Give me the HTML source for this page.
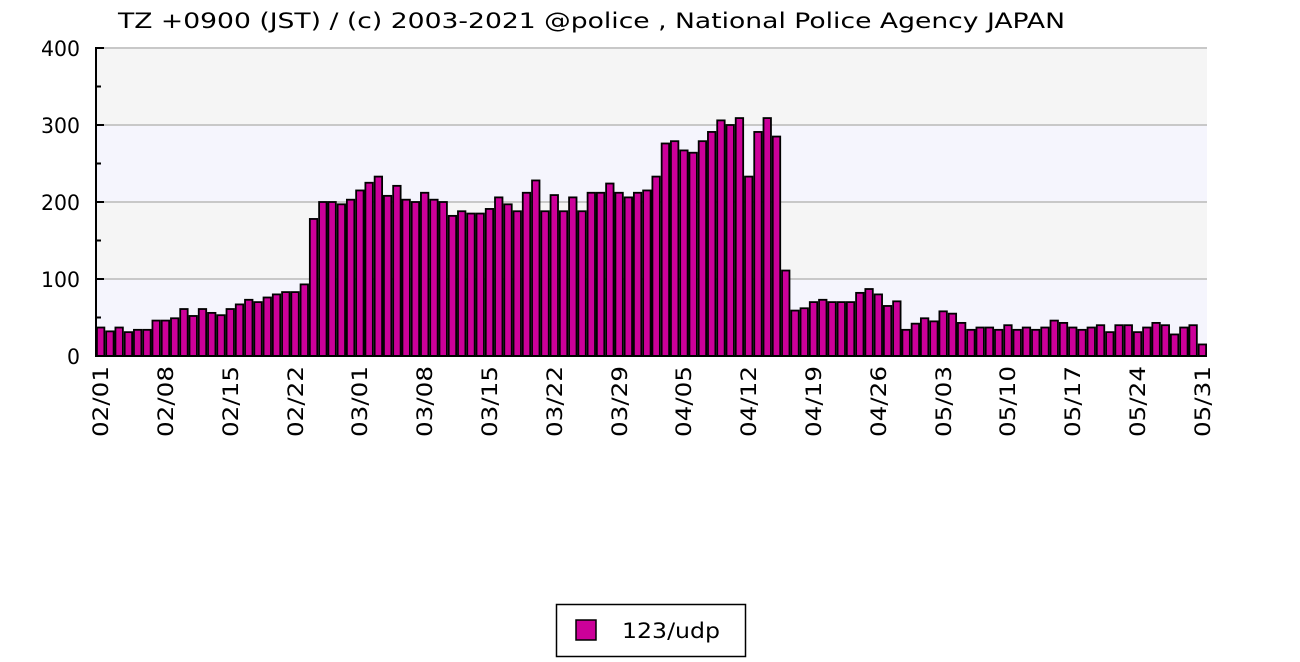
<!DOCTYPE html>
<html><head><meta charset="utf-8"><style>
html,body{margin:0;padding:0;background:#fff;}
svg{display:block;font-family:"DejaVu Sans","Liberation Sans",sans-serif;}
</style></head><body>
<svg id="s" width="1300" height="662" viewBox="0 0 1300 662">
<rect x="96" y="48" width="1111" height="77" fill="#f5f5f5"/>
<rect x="96" y="125" width="1111" height="77" fill="#f5f5fd"/>
<rect x="96" y="202" width="1111" height="77" fill="#f5f5f5"/>
<rect x="96" y="279" width="1111" height="77" fill="#f5f5fd"/>
<g stroke="#c8c8c8" stroke-width="2">
<line x1="96" y1="48" x2="1207" y2="48"/><line x1="96" y1="125" x2="1207" y2="125"/>
<line x1="96" y1="202" x2="1207" y2="202"/><line x1="96" y1="279" x2="1207" y2="279"/>
</g>
<g id="bars" fill="#cc0099" stroke="#000" stroke-width="1.8"></g>
<g stroke="#000" stroke-width="2">
<line x1="96" y1="47" x2="96" y2="357"/><line x1="95" y1="356" x2="1207" y2="356"/>
<line x1="96" y1="48" x2="104" y2="48"/><line x1="96" y1="86.5" x2="101" y2="86.5"/>
<line x1="96" y1="125" x2="104" y2="125"/><line x1="96" y1="163.5" x2="101" y2="163.5"/>
<line x1="96" y1="202" x2="104" y2="202"/><line x1="96" y1="240.5" x2="101" y2="240.5"/>
<line x1="96" y1="279" x2="104" y2="279"/><line x1="96" y1="317.5" x2="101" y2="317.5"/>
</g>
<g font-size="21" fill="#000" text-anchor="end">
<text x="80" y="56" textLength="39" lengthAdjust="spacingAndGlyphs">400</text>
<text x="80" y="133" textLength="39" lengthAdjust="spacingAndGlyphs">300</text>
<text x="80" y="210" textLength="39" lengthAdjust="spacingAndGlyphs">200</text>
<text x="80" y="287" textLength="39" lengthAdjust="spacingAndGlyphs">100</text>
<text x="80" y="364" textLength="13" lengthAdjust="spacingAndGlyphs">0</text>
</g>
<text x="118" y="28" font-size="21" fill="#000" textLength="947" lengthAdjust="spacingAndGlyphs">TZ +0900 (JST) / (c) 2003-2021 @police , National Police Agency JAPAN</text>
<g font-size="21" fill="#000" text-anchor="end">
<text transform="translate(108,366) rotate(-90)" textLength="71" lengthAdjust="spacingAndGlyphs">02/01</text>
<text transform="translate(173,366) rotate(-90)" textLength="71" lengthAdjust="spacingAndGlyphs">02/08</text>
<text transform="translate(238,366) rotate(-90)" textLength="71" lengthAdjust="spacingAndGlyphs">02/15</text>
<text transform="translate(303,366) rotate(-90)" textLength="71" lengthAdjust="spacingAndGlyphs">02/22</text>
<text transform="translate(367,366) rotate(-90)" textLength="71" lengthAdjust="spacingAndGlyphs">03/01</text>
<text transform="translate(432,366) rotate(-90)" textLength="71" lengthAdjust="spacingAndGlyphs">03/08</text>
<text transform="translate(497,366) rotate(-90)" textLength="71" lengthAdjust="spacingAndGlyphs">03/15</text>
<text transform="translate(562,366) rotate(-90)" textLength="71" lengthAdjust="spacingAndGlyphs">03/22</text>
<text transform="translate(627,366) rotate(-90)" textLength="71" lengthAdjust="spacingAndGlyphs">03/29</text>
<text transform="translate(691,366) rotate(-90)" textLength="71" lengthAdjust="spacingAndGlyphs">04/05</text>
<text transform="translate(756,366) rotate(-90)" textLength="71" lengthAdjust="spacingAndGlyphs">04/12</text>
<text transform="translate(821,366) rotate(-90)" textLength="71" lengthAdjust="spacingAndGlyphs">04/19</text>
<text transform="translate(886,366) rotate(-90)" textLength="71" lengthAdjust="spacingAndGlyphs">04/26</text>
<text transform="translate(951,366) rotate(-90)" textLength="71" lengthAdjust="spacingAndGlyphs">05/03</text>
<text transform="translate(1015,366) rotate(-90)" textLength="71" lengthAdjust="spacingAndGlyphs">05/10</text>
<text transform="translate(1080,366) rotate(-90)" textLength="71" lengthAdjust="spacingAndGlyphs">05/17</text>
<text transform="translate(1145,366) rotate(-90)" textLength="71" lengthAdjust="spacingAndGlyphs">05/24</text>
<text transform="translate(1210,366) rotate(-90)" textLength="71" lengthAdjust="spacingAndGlyphs">05/31</text>
</g>
<rect x="556.5" y="604.5" width="189" height="52" fill="#fff" stroke="#000" stroke-width="1.5"/>
<rect x="576" y="620" width="20" height="20" fill="#cc0099" stroke="#000" stroke-width="1.5"/>
<text x="622" y="638" font-size="21" fill="#000" textLength="98" lengthAdjust="spacingAndGlyphs">123/udp</text>
</svg>
<script>
var v=[37,32,37,31,34,34,46,46,49,61,52,61,56,53,61,67,73,70,76,80,83,83,93,178,200,200,197,203,
215,225,233,208,221,203,200,212,203,200,182,188,185,185,191,206,197,188,212,228,188,209,188,206,188,212,212,224,212,206,212,
215,233,276,279,267,264,279,291,306,300,309,233,291,309,285,111,59,62,70,73,70,70,70,82,87,80,65,71,34,42,
49,45,58,55,43,34,37,37,34,40,34,37,34,37,46,43,37,34,37,40,31,40,40,31,37,43,40,28,37,40,15];
var g=document.getElementById('bars'),w=1111/120,h='';
for(var i=0;i<v.length;i++){var x=96+i*w+0.9,y=356-v[i]*0.77;
h+='<rect x="'+x.toFixed(2)+'" y="'+y.toFixed(2)+'" width="'+(w-1.8).toFixed(2)+'" height="'+(356-y).toFixed(2)+'"/>';}
g.innerHTML=h;
</script>
</body></html>
